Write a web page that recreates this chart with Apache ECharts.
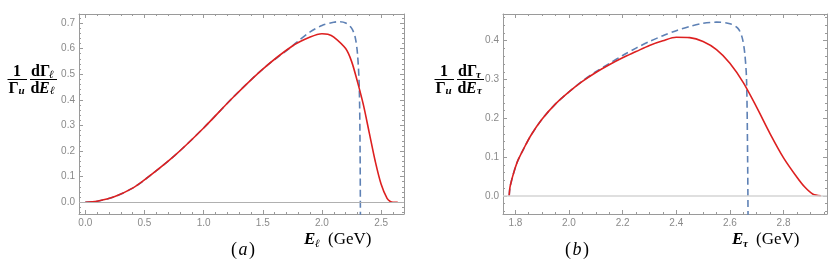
<!DOCTYPE html>
<html><head><meta charset="utf-8">
<script src="https://cdn.jsdelivr.net/npm/echarts@6/dist/echarts.min.js"></script>
<style>html,body{margin:0;padding:0;background:#fff}#c{width:830px;height:261px}</style>
</head><body><div id="c"></div>
<script>
// ---- Panel (a): lepton energy spectrum ----
const aRedE  = [0, 0.1, 0.25, 0.4, 0.5, 0.75, 1.0, 1.25, 1.5, 1.75, 1.9, 2.0, 2.05, 2.1, 2.2, 2.25, 2.3, 2.35, 2.4, 2.45, 2.5, 2.55, 2.58, 2.6, 2.64];
const aRedV  = [0, 0.004, 0.022, 0.055, 0.087, 0.18, 0.29, 0.41, 0.52, 0.61, 0.645, 0.658, 0.656, 0.645, 0.60, 0.55, 0.47, 0.38, 0.27, 0.16, 0.07, 0.015, 0.002, 0, 0];
const aDashE = [0, 0.1, 0.25, 0.4, 0.5, 0.75, 1.0, 1.25, 1.5, 1.75, 1.8, 1.9, 2.0, 2.1, 2.15, 2.2, 2.25, 2.28, 2.3, 2.315, 2.322, 2.325];
const aDashV = [0, 0.004, 0.022, 0.055, 0.087, 0.18, 0.29, 0.41, 0.52, 0.61, 0.63, 0.665, 0.69, 0.703, 0.705, 0.70, 0.68, 0.645, 0.58, 0.45, 0.2, -0.1];
// ---- Panel (b): tau energy spectrum ----
const bRedE  = [1.777, 1.78, 1.785, 1.79, 1.80, 1.81, 1.83, 1.86, 1.9, 1.95, 2.0, 2.05, 2.1, 2.15, 2.2, 2.25, 2.3, 2.35, 2.4, 2.45, 2.5, 2.55, 2.6, 2.65, 2.7, 2.75, 2.8, 2.85, 2.88, 2.91, 2.939];
const bRedV  = [0, 0.022, 0.037, 0.05, 0.073, 0.092, 0.12, 0.158, 0.198, 0.237, 0.268, 0.295, 0.318, 0.338, 0.356, 0.372, 0.388, 0.40, 0.409, 0.408, 0.398, 0.377, 0.342, 0.292, 0.228, 0.16, 0.098, 0.048, 0.022, 0.004, 0];
const bDashE = [1.777, 1.78, 1.785, 1.79, 1.80, 1.81, 1.83, 1.86, 1.9, 1.95, 2.0, 2.05, 2.1, 2.15, 2.2, 2.25, 2.3, 2.35, 2.4, 2.45, 2.5, 2.55, 2.6, 2.63, 2.645, 2.655, 2.662, 2.666, 2.668];
const bDashV = [0, 0.022, 0.037, 0.05, 0.073, 0.092, 0.12, 0.158, 0.198, 0.237, 0.268, 0.296, 0.32, 0.341, 0.362, 0.381, 0.398, 0.413, 0.426, 0.437, 0.445, 0.448, 0.444, 0.432, 0.41, 0.37, 0.3, 0.1, -0.1];
// ---- tick labels ----
const aXTicks = [0, 0.5, 1.0, 1.5, 2.0, 2.5];
const aYTicks = [0, 0.1, 0.2, 0.3, 0.4, 0.5, 0.6, 0.7];
const bXTicks = [1.8, 2.0, 2.2, 2.4, 2.6, 2.8];
const bYTicks = [0, 0.1, 0.2, 0.3, 0.4];

const aXRange = [-0.053, 2.693], aYRange = [-0.046, 0.735];
const bXRange = [1.754, 2.962],  bYRange = [-0.047, 0.469];

function minorTicks(range, step, majors) {
  const out = [];
  const start = Math.ceil(range[0] / step - 1e-9);
  for (let k = start; k * step <= range[1] + 1e-9; k++) {
    const v = +(k * step).toFixed(4);
    if (!majors.some(m => Math.abs(m - v) < 1e-6)) out.push(v);
  }
  return out;
}
const FRAME = '#9a9a9a';
const LBL = { color: '#8a8a8a', fontSize: 10, fontFamily: 'Liberation Sans, Arial, sans-serif' };

function axes(kind, grid, range, majors, minorStep) {
  const minors = minorTicks(range, minorStep, majors);
  const posMain = kind === 'x' ? 'bottom' : 'left';
  const posOpp  = kind === 'x' ? 'top' : 'right';
  const base = { gridIndex: grid, type: 'value', min: range[0], max: range[1], splitLine: { show: false } };
  const mk = (pos, vals, len, line, label) => Object.assign({}, base, {
    position: pos,
    axisLine: { show: line, onZero: false, lineStyle: { color: FRAME, width: 1 } },
    axisTick: { show: true, inside: true, length: len, customValues: vals, lineStyle: { color: FRAME, width: 1 } },
    axisLabel: label ? Object.assign({ show: true, customValues: majors, margin: 4, formatter: v => v.toFixed(1) }, LBL) : { show: false }
  });
  return [
    mk(posMain, majors, 4, true, true),
    mk(posMain, minors, 2, false, false),
    mk(posOpp, majors, 4, true, false),
    mk(posOpp, minors, 2, false, false)
  ];
}

const xAxis = [].concat(axes('x', 0, aXRange, aXTicks, 0.1), axes('x', 1, bXRange, bXTicks, 0.05));
const yAxis = [].concat(axes('y', 0, aYRange, aYTicks, 0.02), axes('y', 1, bYRange, bYTicks, 0.02));

const zip = (e, v) => e.map((x, i) => [x, v[i]]);
const RED = '#dd2020', BLUE = '#5e81b5';
function zeroLine(color, w) {
  return { silent: true, symbol: 'none', label: { show: false }, animation: false,
           lineStyle: { color: color, width: w, type: 'solid' }, data: [{ yAxis: 0 }] };
}
const SM = 0.3;
const series = [
  { type: 'line', xAxisIndex: 0, yAxisIndex: 0, data: zip(aRedE, aRedV), showSymbol: false, smooth: SM,
    lineStyle: { color: RED, width: 1.6 }, markLine: zeroLine('#b0b0b0', 1), z: 3 },
  { type: 'line', xAxisIndex: 0, yAxisIndex: 0, data: zip(aDashE, aDashV), showSymbol: false, smooth: SM,
    lineStyle: { color: BLUE, width: 1.6, type: [7, 4] }, z: 2 },
  { type: 'line', xAxisIndex: 4, yAxisIndex: 4, data: zip(bRedE, bRedV), showSymbol: false, smooth: SM,
    lineStyle: { color: RED, width: 1.6 }, markLine: zeroLine('#d4d4d4', 1.5), z: 3 },
  { type: 'line', xAxisIndex: 4, yAxisIndex: 4, data: zip(bDashE, bDashV), showSymbol: false, smooth: SM,
    lineStyle: { color: BLUE, width: 1.6, type: [7, 4] }, z: 2 }
];

const SERIF = '"Liberation Serif", "DejaVu Serif", serif';
function t(x, y, text, size, opts) {
  opts = opts || {};
  return { type: 'text', x: x, y: y, silent: true,
    style: { text: text, fill: '#000', textAlign: opts.align || 'left', textVerticalAlign: 'middle',
      font: (opts.style || '') + ' ' + (opts.weight || 'bold') + ' ' + size + 'px ' + SERIF } };
}
function bar(x1, x2, y) {
  return { type: 'line', silent: true, shape: { x1: x1, y1: y, x2: x2, y2: y }, style: { stroke: '#000', lineWidth: 1 } };
}
function yLabel(ox, sub) {
  return { type: 'group', x: ox, y: 0, children: [
    t(17, 71.5, '1', 16, { align: 'center' }),
    bar(7.5, 27, 79.5),
    t(8.5, 88.5, 'Γ', 16),
    t(18.5, 91.5, 'u', 11, { style: 'italic' }),
    t(31, 71.5, 'dΓ', 16),
    t(49, 75, sub, 11, { style: 'italic' }),
    bar(30, 57, 79.5),
    t(30.5, 88.5, 'd', 16),
    t(39, 88.5, 'E', 16, { style: 'italic' }),
    t(50, 91.5, sub, 11, { style: 'italic' })
  ]};
}
function xLabel(x, y, sub) {
  return { type: 'group', x: x, y: y, children: [
    t(0, 0, 'E', 17, { style: 'italic' }),
    t(11, 4, sub, 11, { style: 'italic' }),
    t(24, 0, '(GeV)', 17, { weight: 'normal' })
  ]};
}
function panelTag(x, y, letter) {
  return { type: 'group', x: x, y: y, children: [
    t(-6, 0, '(', 18, { weight: 'normal', align: 'right' }),
    t(0, 0, letter, 18, { weight: 'normal', style: 'italic', align: 'center' }),
    t(6, 0, ')', 18, { weight: 'normal', align: 'left' })
  ]};
}

const chart = echarts.init(document.getElementById('c'), null, { renderer: 'canvas' });
chart.setOption({
  animation: false,
  backgroundColor: '#fff',
  grid: [
    { left: 79, top: 14, width: 325, height: 200, containLabel: false },
    { left: 503, top: 14, width: 324, height: 200, containLabel: false }
  ],
  xAxis: xAxis,
  yAxis: yAxis,
  series: series,
  graphic: [
    yLabel(0, 'ℓ'),
    yLabel(427, 'τ'),
    xLabel(304, 240, 'ℓ'),
    xLabel(732, 240, 'τ'),
    panelTag(243, 250, 'a'),
    panelTag(577, 250, 'b')
  ]
});
</script></body></html>
